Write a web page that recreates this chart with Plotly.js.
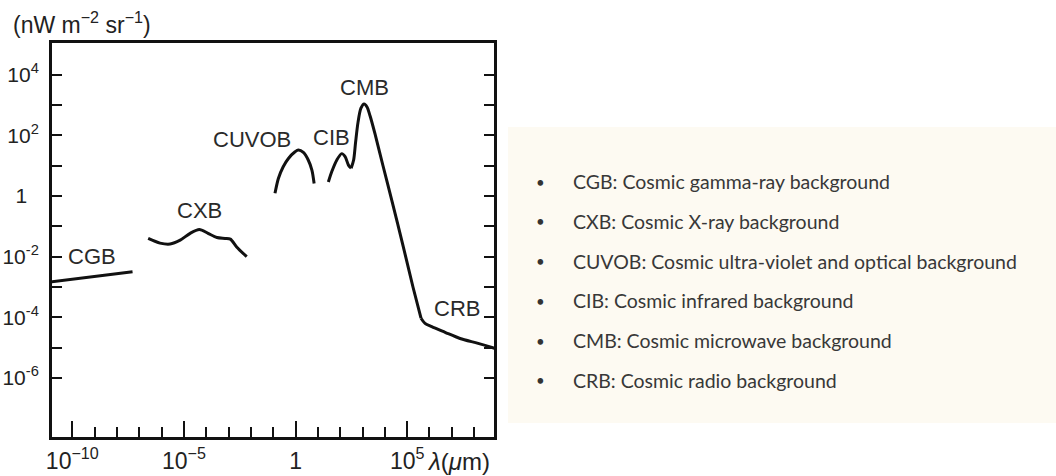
<!DOCTYPE html>
<html><head><meta charset="utf-8">
<script src="https://cdn.plot.ly/plotly-3.0.1.min.js"></script>
<style>html,body{margin:0;padding:0;background:#fff}#chart{width:1056px;height:476px}</style>
</head><body><div id="chart"></div>
<script>
// ---- data (wavelength in micrometres, intensity in nW m^-2 sr^-1) ----
const cgbLambda = [1e-11, 5.0e-8];
const cgbFlux   = [1.45e-3, 3.2e-3];

const cxbLambda = [2.5e-7, 8.5e-7, 2.4e-6, 6.8e-6, 1.9e-5, 4.9e-5, 1.2e-4, 3.0e-4, 6.9e-4, 1.2e-3, 2.3e-3, 6.5e-3];
const cxbFlux   = [0.040, 0.028, 0.026, 0.035, 0.059, 0.079, 0.059, 0.043, 0.040, 0.038, 0.021, 0.010];

const cuvobLambda = [0.12, 0.17, 0.28, 0.48, 0.95, 1.33, 2.24, 3.7, 5.4, 6.8];
const cuvobFlux   = [1.23, 3.8, 9.3, 17.4, 28.8, 33.1, 27.5, 15.5, 7.2, 2.6];

const cibLambda = [29.5, 41.7, 70.8, 117.5, 166, 234, 310];
const cibFlux   = [2.9, 6.3, 15.5, 25.1, 20.0, 10.5, 8.3];

const cmbLambda = [310, 400, 490, 630, 850, 1180, 1590, 2190, 3630, 8320, 20900, 66000, 182000, 417000];
const cmbFlux   = [8.3, 15.5, 60, 275, 794, 1096, 871, 437, 112, 9.8, 0.68, 0.0224, 0.0010, 9.3e-5];

const crbLambda = [417000, 6.3e5, 1.26e6, 5.0e6, 2.34e7, 1.51e8, 1.0e9];
const crbFlux   = [9.3e-5, 6.3e-5, 4.9e-5, 3.2e-5, 2.0e-5, 1.38e-5, 9.1e-6];

const bandNames = ['CGB', 'CXB', 'CUVOB', 'CIB', 'CMB', 'CRB'];
const legendLines = [
  'CGB: Cosmic gamma-ray background',
  'CXB: Cosmic X-ray background',
  'CUVOB: Cosmic ultra-violet and optical background',
  'CIB: Cosmic infrared background',
  'CMB: Cosmic microwave background',
  'CRB: Cosmic radio background'
];

const yTickVals  = [1e-6, 1e-4, 1e-2, 1, 100, 1e4];
const yTickText  = ['10<sup>-6</sup>', '10<sup>-4</sup>', '10<sup>-2</sup>', '1\u00a0\u00a0', '10<sup>2</sup>', '10<sup>4</sup>'];
const yMinorVals = [1e-5, 1e-3, 1e-1, 10, 1000];
const xMajorVals = [1e-10, 1e-5, 1, 1e5];
const xMajorText = ['10<sup>−10</sup>', '10<sup>−5</sup>', '1', '10<sup>5</sup>'];
const xMinorVals = [1e-9,1e-8,1e-7,1e-6,1e-4,1e-3,1e-2,1e-1,10,100,1e3,1e4,1e6,1e7,1e8];

// ---- layout helpers ----
const W = 1056, H = 476;
const M = {l: 52, r: 562, t: 43, b: 39};
const pw = W - M.l - M.r, ph = H - M.t - M.b;
const px = x => (x - M.l) / pw;
const py = y => (H - M.b - y) / ph;

const SANS = 'Liberation Sans, Arial, sans-serif';
const LINE = {color: '#111', width: 3};

function tr(name, x, y, shape) {
  return {type: 'scatter', mode: 'lines', name: name, x: x, y: y,
          line: Object.assign({shape: shape, smoothing: 0.8}, LINE), hoverinfo: 'skip'};
}
const traces = [
  tr('CGB', cgbLambda, cgbFlux, 'linear'),
  tr('CXB', cxbLambda, cxbFlux, 'spline'),
  tr('CUVOB', cuvobLambda, cuvobFlux, 'spline'),
  tr('CIB', cibLambda, cibFlux, 'spline'),
  tr('CMB', cmbLambda, cmbFlux, 'spline'),
  tr('CRB', crbLambda, crbFlux, 'spline')
];

// label positions (log10 units on log axes)
const labelPos = {
  CGB: [-9.13, -2.0], CXB: [-4.32, -0.46], CUVOB: [-1.96, 1.88],
  CIB: [1.62, 1.93], CMB: [3.07, 3.58], CRB: [7.22, -3.70]
};
const annotations = bandNames.map(n => ({
  x: labelPos[n][0], y: labelPos[n][1], xref: 'x', yref: 'y', text: n,
  showarrow: false, xanchor: 'center', yanchor: 'middle',
  font: {family: SANS, size: 22, color: '#2a2a2a'}
}));

annotations.push({
  x: px(11), y: py(23), xref: 'paper', yref: 'paper', xanchor: 'left', yanchor: 'middle',
  text: '(nW m<sup>−2</sup> sr<sup>−1</sup>)', showarrow: false,
  font: {family: SANS, size: 23, color: '#222'}
});

annotations.push({
  x: px(425), y: py(461), xref: 'paper', yref: 'paper', xanchor: 'left', yanchor: 'middle',
  text: '<i>λ</i>(<i>μ</i>m)', showarrow: false,
  font: {family: SANS, size: 24, color: '#222'}
});

legendLines.forEach((t, i) => {
  const yc = 181.7 + i * 39.7;
  annotations.push({x: px(540), y: py(yc), xref: 'paper', yref: 'paper', text: '•',
    showarrow: false, xanchor: 'center', yanchor: 'middle',
    font: {family: 'Lato, sans-serif', size: 15, color: '#333'}});
  annotations.push({x: px(571), y: py(yc), xref: 'paper', yref: 'paper', text: t,
    showarrow: false, xanchor: 'left', yanchor: 'middle',
    font: {family: 'Lato, sans-serif', size: 19.5, color: '#383838'}});
});

const layout = {
  width: W, height: H, margin: M,
  paper_bgcolor: '#fff', plot_bgcolor: '#fff',
  showlegend: false,
  xaxis: {type: 'log', range: [-10.91, 8.89], showgrid: false, zeroline: false,
          showline: true, linecolor: '#111', linewidth: 3, mirror: true,
          tickmode: 'array', tickvals: xMajorVals, ticktext: xMajorText,
          ticks: 'inside', ticklen: 16, tickwidth: 2, tickcolor: '#111',
          minor: {tickmode: 'array', tickvals: xMinorVals, ticks: 'inside', ticklen: 10, tickwidth: 2, tickcolor: '#111', showgrid: false},
          tickfont: {family: SANS, size: 23, color: '#222'}, ticklabelstandoff: 1},
  yaxis: {type: 'log', range: [-7.95, 5.05], showgrid: false, zeroline: false,
          showline: true, linecolor: '#111', linewidth: 3, mirror: 'ticks',
          tickmode: 'array', tickvals: yTickVals, ticktext: yTickText,
          ticks: 'inside', ticklen: 10, tickwidth: 2, tickcolor: '#111',
          minor: {tickmode: 'array', tickvals: yMinorVals, ticks: 'inside', ticklen: 10, tickwidth: 2, tickcolor: '#111', showgrid: false},
          tickfont: {family: SANS, size: 21, color: '#222'}, ticklabelstandoff: 6},
  shapes: [{type: 'rect', xref: 'paper', yref: 'paper', x0: px(508), x1: px(1062), y0: py(423), y1: py(127),
            fillcolor: '#fdfaf2', line: {width: 0}, layer: 'below'}],
  annotations: annotations
};

Plotly.newPlot('chart', traces, layout, {staticPlot: true, displayModeBar: false});
</script></body></html>
